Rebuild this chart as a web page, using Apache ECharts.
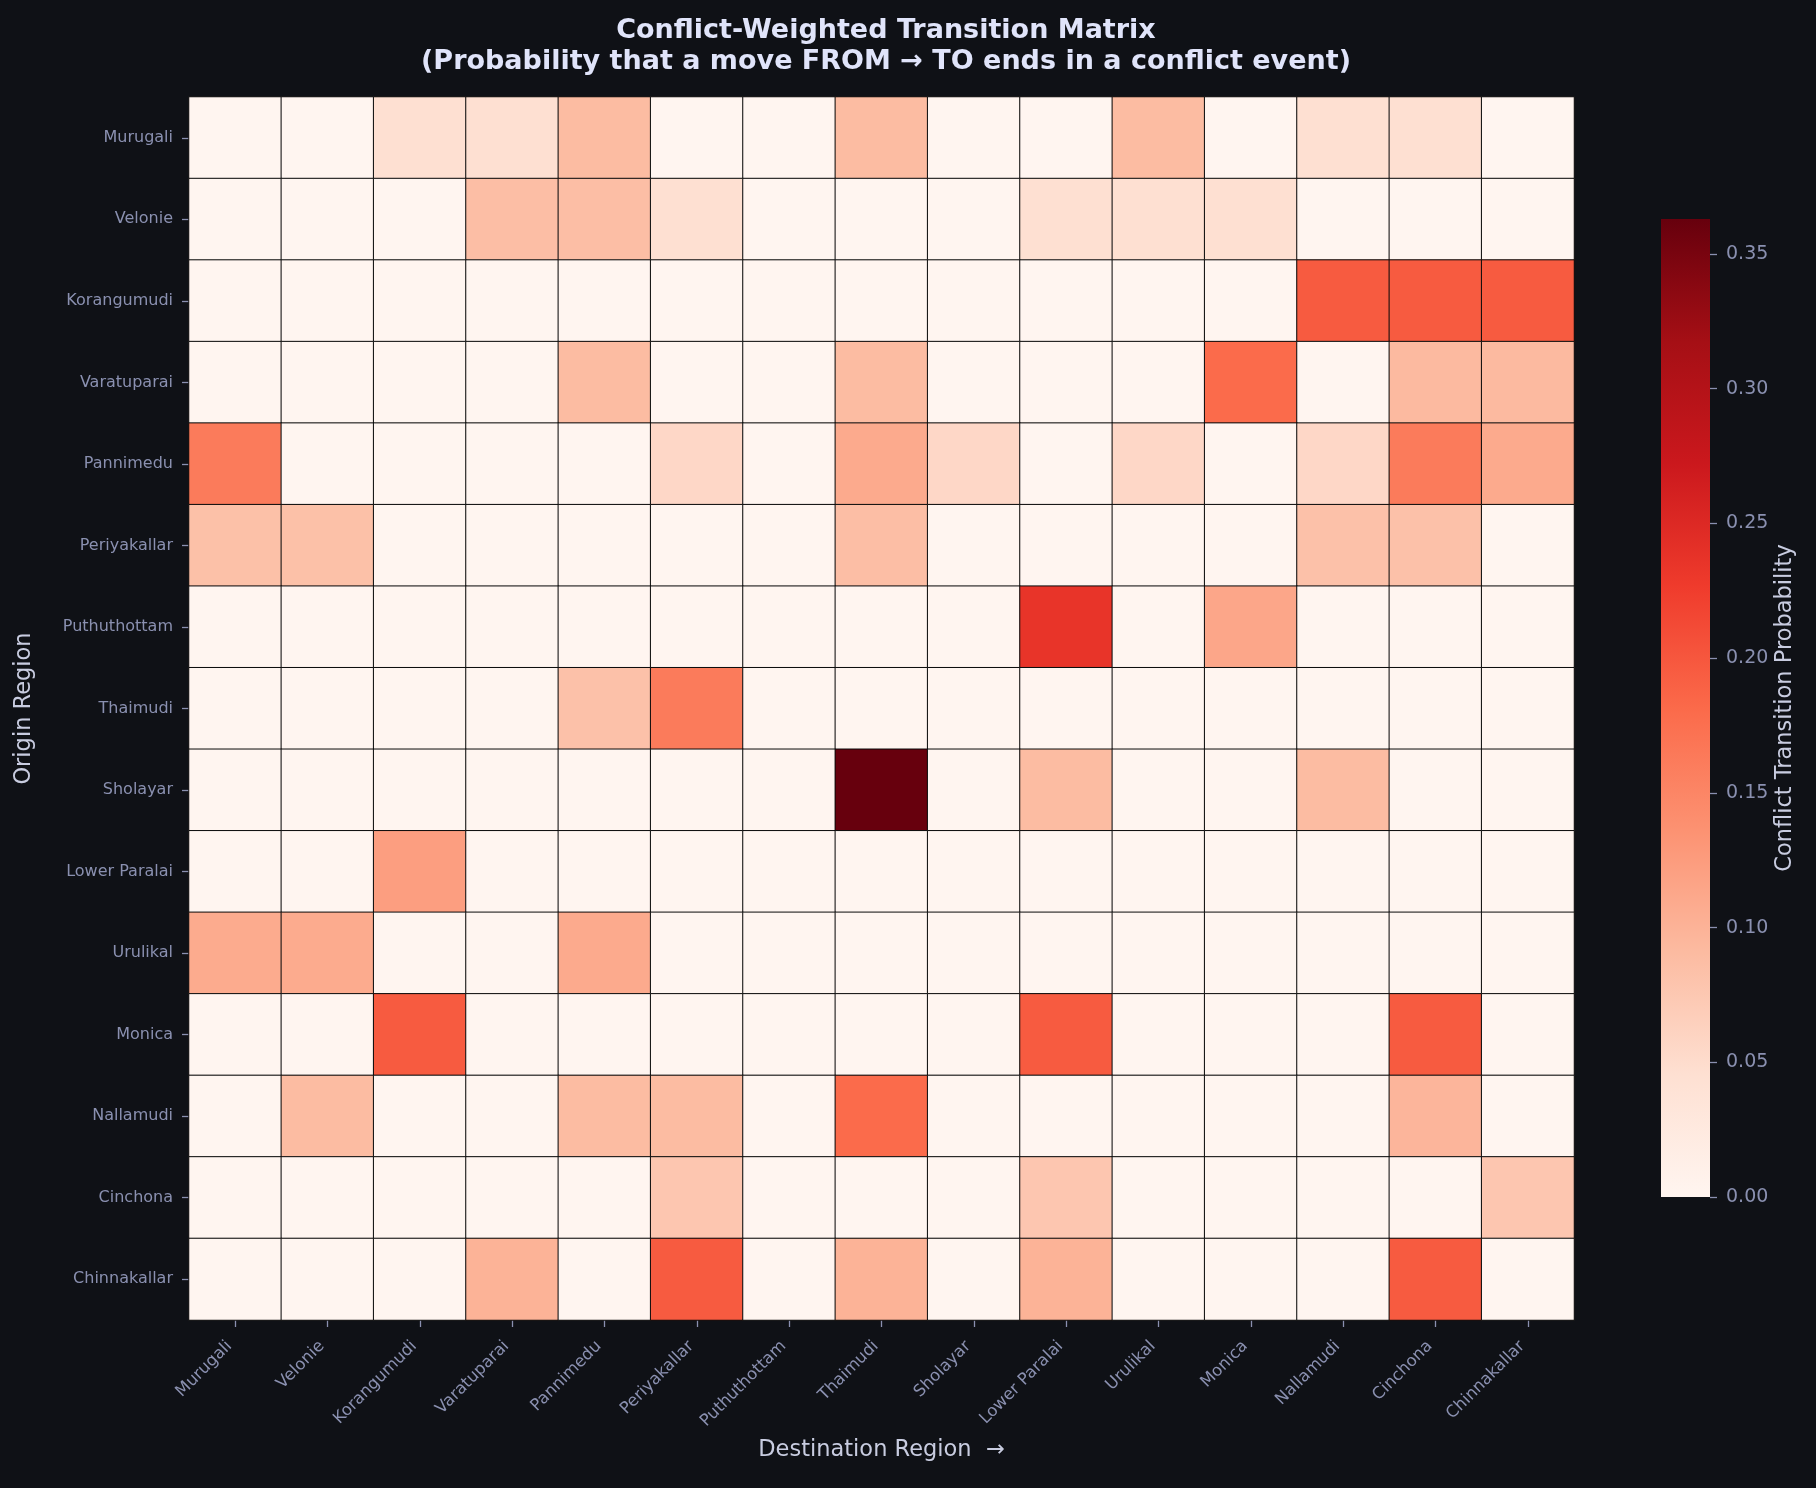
<!DOCTYPE html>
<html>
<head>
<meta charset="utf-8">
<script src="https://cdn.jsdelivr.net/npm/echarts@6/dist/echarts.min.js"></script>
<style>
html,body{margin:0;padding:0;background:#0f1116;}
#chart{width:1816px;height:1488px;}
</style>
</head>
<body>
<div id="chart"></div>
<script>
const regions = ['Murugali','Velonie','Korangumudi','Varatuparai','Pannimedu','Periyakallar','Puthuthottam','Thaimudi','Sholayar','Lower Paralai','Urulikal','Monica','Nallamudi','Cinchona','Chinnakallar'];

// rows = origin, columns = destination
const rowMurugali     = [0, 0, 0.045, 0.045, 0.09, 0, 0, 0.09, 0, 0, 0.09, 0, 0.045, 0.045, 0];
const rowVelonie      = [0, 0, 0, 0.087, 0.087, 0.045, 0, 0, 0, 0.045, 0.045, 0.045, 0, 0, 0];
const rowKorangumudi  = [0, 0, 0, 0, 0, 0, 0, 0, 0, 0, 0, 0, 0.196, 0.196, 0.196];
const rowVaratuparai  = [0, 0, 0, 0, 0.09, 0, 0, 0.09, 0, 0, 0, 0.18, 0, 0.092, 0.092];
const rowPannimedu    = [0.162, 0, 0, 0, 0, 0.056, 0, 0.11, 0.056, 0, 0.056, 0, 0.056, 0.162, 0.11];
const rowPeriyakallar = [0.084, 0.084, 0, 0, 0, 0, 0, 0.087, 0, 0, 0, 0, 0.083, 0.083, 0];
const rowPuthuthottam = [0, 0, 0, 0, 0, 0, 0, 0, 0, 0.236, 0, 0.114, 0, 0, 0];
const rowThaimudi     = [0, 0, 0, 0, 0.083, 0.162, 0, 0, 0, 0, 0, 0, 0, 0, 0];
const rowSholayar     = [0, 0, 0, 0, 0, 0, 0, 0.363, 0, 0.09, 0, 0, 0.09, 0, 0];
const rowLowerParalai = [0, 0, 0.123, 0, 0, 0, 0, 0, 0, 0, 0, 0, 0, 0, 0];
const rowUrulikal     = [0.109, 0.109, 0, 0, 0.11, 0, 0, 0, 0, 0, 0, 0, 0, 0, 0];
const rowMonica       = [0, 0, 0.196, 0, 0, 0, 0, 0, 0, 0.196, 0, 0, 0, 0.196, 0];
const rowNallamudi    = [0, 0.09, 0, 0, 0.09, 0.09, 0, 0.18, 0, 0, 0, 0, 0, 0.097, 0];
const rowCinchona     = [0, 0, 0, 0, 0, 0.077, 0, 0, 0, 0.077, 0, 0, 0, 0, 0.077];
const rowChinnakallar = [0, 0, 0, 0.1, 0, 0.196, 0, 0.1, 0, 0.1, 0, 0, 0, 0.196, 0];

const matrix = [rowMurugali, rowVelonie, rowKorangumudi, rowVaratuparai, rowPannimedu, rowPeriyakallar, rowPuthuthottam, rowThaimudi, rowSholayar, rowLowerParalai, rowUrulikal, rowMonica, rowNallamudi, rowCinchona, rowChinnakallar];

const colorbarTicks = [0, 0.05, 0.10, 0.15, 0.20, 0.25, 0.30, 0.35];
const colorMax = 0.363;
const reds = ['#fff5f0','#fee0d2','#fcbba1','#fc9272','#fb6a4a','#ef3b2c','#cb181d','#a50f15','#67000d'];

const heatData = [];
matrix.forEach((row, yi) => row.forEach((v, xi) => heatData.push([xi, yi, v])));

const tickColor = '#8a90b0';
const nameColor = '#c8cce0';
const FONT = 'DejaVu Sans';

const chart = echarts.init(document.getElementById('chart'));
chart.setOption({
  backgroundColor: '#0f1116',
  animation: false,
  textStyle: { fontFamily: FONT },
  title: {
    text: 'Conflict-Weighted Transition Matrix\n(Probability that a move FROM \u2192 TO ends in a conflict event)',
    left: 881,
    top: 10,
    textAlign: 'center',
    textStyle: { color: '#e0e4fa', fontSize: 27, fontWeight: 'bold', lineHeight: 31, fontFamily: FONT, align: 'center' }
  },
  grid: [
    { left: 189, right: 242, top: 97, bottom: 168 },
    { left: 1661, width: 49, top: 219, height: 978 }
  ],
  xAxis: [
    {
      type: 'category', data: regions, gridIndex: 0,
      name: 'Destination Region  \u2192', nameLocation: 'middle', nameGap: 119,
      nameTextStyle: { color: nameColor, fontSize: 22.5, fontFamily: FONT },
      axisLine: { show: false },
      axisTick: { show: true, alignWithLabel: true, length: 7, lineStyle: { color: tickColor, width: 1.3 } },
      axisLabel: { rotate: 45, margin: 18, padding: [0, 8, 0, 0], color: tickColor, fontSize: 16.5, fontFamily: FONT, interval: 0 },
      splitLine: { show: false }, splitArea: { show: false }
    },
    { type: 'category', data: ['cb'], gridIndex: 1, show: false }
  ],
  yAxis: [
    {
      type: 'category', data: regions, gridIndex: 0, inverse: true,
      name: 'Origin Region', nameLocation: 'middle', nameGap: 153, nameRotate: 90,
      nameTextStyle: { color: nameColor, fontSize: 22.5, fontFamily: FONT },
      axisLine: { show: false },
      axisTick: { show: true, alignWithLabel: true, length: 7, lineStyle: { color: tickColor, width: 1.3 } },
      axisLabel: { margin: 16, color: tickColor, fontSize: 16, fontFamily: FONT, interval: 0 },
      splitLine: { show: false }, splitArea: { show: false }
    },
    {
      type: 'value', gridIndex: 1, min: 0, max: colorMax, position: 'right',
      name: 'Conflict Transition Probability', nameLocation: 'middle', nameGap: 64, nameRotate: 90,
      nameTextStyle: { color: nameColor, fontSize: 22.5, fontFamily: FONT },
      axisLine: { show: false },
      axisTick: { show: true, length: 7, customValues: colorbarTicks, lineStyle: { color: tickColor, width: 1.3 } },
      axisLabel: { margin: 16, color: tickColor, fontSize: 19, fontFamily: FONT, customValues: colorbarTicks, formatter: v => v.toFixed(2) },
      splitLine: { show: false }
    }
  ],
  visualMap: {
    type: 'continuous', min: 0, max: colorMax, show: false, seriesIndex: 0,
    inRange: { color: reds }
  },
  series: [
    {
      type: 'heatmap', xAxisIndex: 0, yAxisIndex: 0, data: heatData,
      itemStyle: { borderColor: '#0a0a0a', borderWidth: 1 },
      emphasis: { disabled: true },
      label: { show: false }
    },
    {
      type: 'bar', xAxisIndex: 1, yAxisIndex: 1, data: [colorMax],
      barWidth: '100%', silent: true,
      itemStyle: {
        color: new echarts.graphic.LinearGradient(0, 1, 0, 0,
          reds.map((c, i) => ({ offset: i / (reds.length - 1), color: c })))
      }
    }
  ]
});
</script>
</body>
</html>
